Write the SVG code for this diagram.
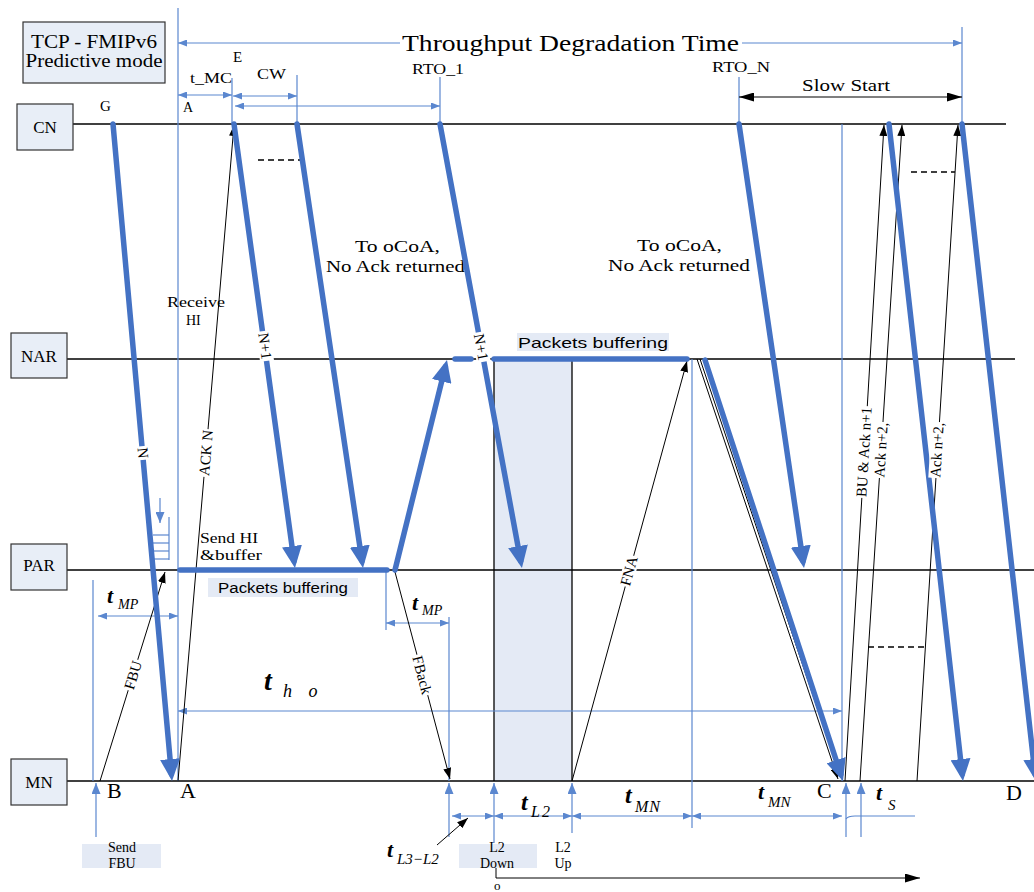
<svg xmlns="http://www.w3.org/2000/svg" width="1034" height="892" viewBox="0 0 1034 892">
<defs>
<style>
text{font-family:"Liberation Serif","Times New Roman",serif;fill:#000;font-size:14px}
.lane{fill:#E8EEF7;stroke:#333;stroke-width:1.2}
.lt{font-size:17px}
.rl{font-size:15px}
.ln{stroke:#000;stroke-width:1.3;fill:none}
.thick{stroke:#4472C4;stroke-width:5.5;stroke-linecap:round;fill:none}
.thickA{stroke:#4472C4;stroke-width:5.5;stroke-linecap:round;fill:none;marker-end:url(#mBig)}
.thin{stroke:#000;stroke-width:1;fill:none}
.thinA{stroke:#000;stroke-width:1;fill:none;marker-end:url(#mThin)}
.blu{stroke:#5B87CF;stroke-width:1.2;fill:none}
.dim{stroke:#5B87CF;stroke-width:1.2;fill:none;marker-start:url(#mDim);marker-end:url(#mDim)}
.up{stroke:#5B87CF;stroke-width:1.2;fill:none;marker-end:url(#mUp)}
.dash{stroke:#000;stroke-width:1.6;stroke-dasharray:6 4;fill:none}
.bg{fill:#E4EAF5}
.wb{fill:#fff}
.tt{font-style:italic;font-weight:bold}
.sub{font-style:italic}
.sans{font-family:"Liberation Sans",Arial,sans-serif}
</style>
<marker id="mBig" viewBox="0 0 22 20" refX="15" refY="10" markerWidth="22" markerHeight="20" markerUnits="userSpaceOnUse" orient="auto"><path d="M0,0 L22,10 L0,20 z" fill="#4472C4"/></marker>
<marker id="mThin" viewBox="0 0 11 8" refX="11" refY="4" markerWidth="11" markerHeight="8" markerUnits="userSpaceOnUse" orient="auto"><path d="M0,0 L11,4 L0,8 z" fill="#000"/></marker>
<marker id="mDim" viewBox="0 0 9 7" refX="9" refY="3.5" markerWidth="9" markerHeight="7" markerUnits="userSpaceOnUse" orient="auto-start-reverse"><path d="M0,0 L9,3.5 L0,7 z" fill="#5B87CF"/></marker>
<marker id="mUp" viewBox="0 0 11 9" refX="11" refY="4.5" markerWidth="11" markerHeight="9" markerUnits="userSpaceOnUse" orient="auto"><path d="M0,0 L11,4.5 L0,9 z" fill="#5B87CF"/></marker>
<marker id="mSS" viewBox="0 0 15 9" refX="15" refY="4.5" markerWidth="15" markerHeight="9" markerUnits="userSpaceOnUse" orient="auto-start-reverse"><path d="M0,0 L15,4.5 L0,9 z" fill="#000"/></marker>
</defs>
<rect width="1034" height="892" fill="#fff"/>

<!-- shaded L2 period -->
<rect x="494" y="359" width="78" height="422" class="bg"/>

<!-- lane lines -->
<g id="lanes">
<line x1="73" y1="124" x2="1006" y2="124" class="ln"/>
<line x1="67" y1="359" x2="1015" y2="359" class="ln"/>
<line x1="67" y1="570" x2="1034" y2="570" class="ln"/>
<line x1="67" y1="781" x2="1034" y2="781" class="ln"/>
<line x1="494" y1="359" x2="494" y2="781" class="ln"/>
<line x1="572" y1="359" x2="572" y2="781" class="ln"/>
</g>

<g id="title"><rect x="23" y="22" width="142" height="61" class="lane"/>
<text x="94" y="48" text-anchor="middle" style="font-size:19px" textLength="126" lengthAdjust="spacingAndGlyphs">TCP - FMIPv6</text>
<text x="94" y="67" text-anchor="middle" style="font-size:19px" textLength="137" lengthAdjust="spacingAndGlyphs">Predictive mode</text></g>
<g id="CN"><rect x="17" y="104" width="56" height="46" class="lane"/><text x="45" y="133" text-anchor="middle" class="lt">CN</text></g>
<g id="NAR"><rect x="11" y="333" width="56" height="45" class="lane"/><text x="39" y="362" text-anchor="middle" class="lt">NAR</text></g>
<g id="PAR"><rect x="11" y="544" width="56" height="46" class="lane"/><text x="39" y="571" text-anchor="middle" class="lt">PAR</text></g>
<g id="MN"><rect x="11" y="759" width="56" height="46" class="lane"/><text x="39" y="788" text-anchor="middle" class="lt">MN</text></g>

<!-- blue reference/dimension lines -->
<g id="dimensions">
<line x1="178" y1="8" x2="178" y2="781" class="blu" stroke="#8DA9DB"/>
<line x1="962" y1="27" x2="962" y2="124" class="blu"/>
<line x1="232" y1="78" x2="232" y2="124" class="blu"/>
<line x1="297" y1="75" x2="297" y2="124" class="blu"/>
<line x1="440" y1="77" x2="440" y2="124" class="blu"/>
<line x1="739" y1="77" x2="739" y2="124" class="blu"/>
<line x1="842" y1="124" x2="842" y2="781" class="blu"/>
<line x1="692" y1="359" x2="692" y2="828" class="blu"/>
<line x1="93" y1="580" x2="93" y2="781" class="blu"/>
<line x1="386" y1="572" x2="386" y2="630" class="blu"/>
<line x1="449" y1="617" x2="449" y2="781" class="blu"/>
<line x1="178" y1="43" x2="400" y2="43" class="blu" style="marker-start:url(#mDim)"/>
<line x1="742" y1="43" x2="962" y2="43" class="blu" style="marker-end:url(#mDim)"/>
<line x1="178" y1="95" x2="232" y2="95" class="dim"/>
<line x1="233" y1="96" x2="297" y2="96" class="dim"/>
<line x1="235" y1="106" x2="440" y2="106" class="dim"/>
<line x1="98" y1="616" x2="178" y2="616" class="dim"/>
<line x1="386" y1="623" x2="449" y2="623" class="dim"/>
<line x1="178" y1="711" x2="842" y2="711" class="dim"/>
<line x1="452" y1="816" x2="494" y2="816" class="dim"/>
<line x1="494" y1="816" x2="572" y2="816" class="dim"/>
<line x1="572" y1="816" x2="692" y2="816" class="dim"/>
<line x1="692" y1="816" x2="842" y2="816" class="dim"/>
<path d="M846,819 Q848,816 855,816 L915,816" class="blu"/>
<line x1="96" y1="837" x2="96" y2="783" class="up"/>
<line x1="449" y1="837" x2="449" y2="783" class="up"/>
<line x1="494" y1="843" x2="494" y2="783" class="up"/>
<line x1="572" y1="833" x2="572" y2="783" class="up"/>
<line x1="846" y1="837" x2="846" y2="783" class="up"/>
<line x1="861" y1="837" x2="861" y2="783" class="up"/>
<line x1="739" y1="97" x2="962" y2="97" stroke="#000" stroke-width="1.2" style="marker-start:url(#mSS);marker-end:url(#mSS)"/>
<polyline points="496,868 496,878 920,878" stroke="#000" stroke-width="1" fill="none" style="marker-end:url(#mSS)"/>
<line x1="437" y1="845" x2="468" y2="818" class="thinA" stroke-width="1.2"/>
</g>

<!-- buffer icon -->
<g id="buffer-icon">
<line x1="160" y1="498" x2="160" y2="523" class="up" stroke-width="2"/>
<line x1="169" y1="517" x2="169" y2="560" class="blu"/>
<line x1="153" y1="535" x2="169" y2="535" class="blu"/>
<line x1="153" y1="543" x2="169" y2="543" class="blu"/>
<line x1="153" y1="551" x2="169" y2="551" class="blu"/>
<line x1="153" y1="559" x2="169" y2="559" class="blu"/>
</g>

<!-- label backgrounds -->
<rect x="517" y="333" width="152" height="18" class="bg"/>
<rect x="208" y="578" width="150" height="19" class="bg"/>
<rect x="82" y="844" width="79" height="24" class="bg"/>
<rect x="459" y="844" width="78" height="24" class="bg"/>

<!-- free texts -->
<g id="texts">
<text x="402" y="51" style="font-size:24px" textLength="337" lengthAdjust="spacingAndGlyphs">Throughput Degradation Time</text>
<text x="233" y="62" style="font-size:15px">E</text>
<text x="190" y="83" textLength="42" lengthAdjust="spacingAndGlyphs">t_MC</text>
<text x="257" y="79" textLength="29" lengthAdjust="spacingAndGlyphs">CW</text>
<text x="183" y="112">A</text>
<text x="100" y="111" style="font-size:15px">G</text>
<text x="412" y="74" textLength="52" lengthAdjust="spacingAndGlyphs">RTO_1</text>
<text x="712" y="72" textLength="58" lengthAdjust="spacingAndGlyphs">RTO_N</text>
<text x="802" y="91" style="font-size:17px" textLength="88" lengthAdjust="spacingAndGlyphs">Slow Start</text>
<text x="167" y="307" textLength="58" lengthAdjust="spacingAndGlyphs">Receive</text>
<text x="186" y="325">HI</text>
<text x="355" y="252" style="font-size:17px" textLength="85" lengthAdjust="spacingAndGlyphs">To oCoA,</text>
<text x="326" y="272" style="font-size:17px" textLength="139" lengthAdjust="spacingAndGlyphs">No Ack returned</text>
<text x="637" y="251" style="font-size:17px" textLength="85" lengthAdjust="spacingAndGlyphs">To oCoA,</text>
<text x="608" y="271" style="font-size:17px" textLength="142" lengthAdjust="spacingAndGlyphs">No Ack returned</text>
<text x="593" y="348" text-anchor="middle" class="sans" style="font-size:15px" textLength="150" lengthAdjust="spacingAndGlyphs">Packets buffering</text>
<text x="283" y="593" text-anchor="middle" class="sans" style="font-size:14px" textLength="130" lengthAdjust="spacingAndGlyphs">Packets buffering</text>
<text x="200" y="543" style="font-size:15px" textLength="58" lengthAdjust="spacingAndGlyphs">Send HI</text>
<text x="200" y="560" style="font-size:15px" textLength="62" lengthAdjust="spacingAndGlyphs">&amp;buffer</text>
<text x="107" y="798" style="font-size:22px">B</text>
<text x="180" y="798" style="font-size:22px">A</text>
<text x="817" y="798" style="font-size:22px">C</text>
<text x="1006" y="800" style="font-size:22px">D</text>
<text x="122" y="852" text-anchor="middle">Send</text>
<text x="122" y="868" text-anchor="middle">FBU</text>
<text x="497" y="852" text-anchor="middle">L2</text>
<text x="497" y="868" text-anchor="middle">Down</text>
<text x="563" y="852" text-anchor="middle">L2</text>
<text x="563" y="868" text-anchor="middle">Up</text>
<text x="494" y="890" style="font-size:13px">o</text>
<text x="107" y="603" class="tt" style="font-size:22px">t</text><text x="118" y="609" class="sub">MP</text>
<text x="264" y="690" class="tt" style="font-size:28px">t</text><text x="283" y="697" class="sub" style="font-size:18px" letter-spacing="6">h o</text>
<text x="412" y="610" class="tt" style="font-size:22px">t</text><text x="422" y="615" class="sub">MP</text>
<text x="521" y="810" class="tt" style="font-size:24px">t</text><text x="531" y="817" class="sub" style="font-size:16px" letter-spacing="2">L2</text>
<text x="625" y="803" class="tt" style="font-size:24px">t</text><text x="635" y="812" class="sub" style="font-size:16px" letter-spacing="1">MN</text>
<text x="758" y="799" class="tt" style="font-size:22px">t</text><text x="768" y="807" class="sub" style="font-size:15px">MN</text>
<text x="876" y="800" class="tt" style="font-size:22px">t</text><text x="888" y="810" class="sub" style="font-size:15px">S</text>
<text x="387" y="857" class="tt" style="font-size:22px">t</text><text x="397" y="864" class="sub" style="font-size:15px">L3−L2</text>
</g>

<!-- connectors -->
<g id="connectors">
<line x1="100" y1="781" x2="165" y2="572" class="thinA"/>
<line x1="178" y1="781" x2="234" y2="125" class="thinA"/>
<line x1="395" y1="572" x2="450" y2="779" class="thinA"/>
<line x1="572" y1="781" x2="687" y2="361" class="thinA"/>
<line x1="697" y1="359" x2="838" y2="779" class="thinA"/>
<line x1="700" y1="359" x2="839" y2="773" class="thin"/>
<line x1="845" y1="781" x2="884" y2="125" class="thinA"/>
<line x1="860" y1="781" x2="902" y2="125" class="thinA"/>
<line x1="917" y1="781" x2="958" y2="125" class="thinA"/>
<line x1="258" y1="160" x2="303" y2="160" class="dash"/>
<line x1="911" y1="172" x2="955" y2="172" class="dash"/>
<line x1="868" y1="647" x2="925" y2="647" class="dash"/>

<line x1="180" y1="570" x2="387" y2="570" class="thick"/>
<line x1="455" y1="359" x2="471" y2="359" class="thick"/>
<line x1="494" y1="359" x2="687" y2="359" class="thick"/>
<line x1="113" y1="124" x2="171.4" y2="774" class="thickA"/>
<line x1="234" y1="124" x2="294" y2="561" class="thickA"/>
<line x1="297" y1="124" x2="362" y2="561" class="thickA"/>
<line x1="440" y1="124" x2="520.7" y2="561" class="thickA"/>
<line x1="739" y1="124" x2="803" y2="561" class="thickA"/>
<line x1="889" y1="124" x2="962.2" y2="774" class="thickA"/>
<line x1="962" y1="124" x2="1035" y2="774" class="thickA"/>
<line x1="705" y1="360" x2="840.8" y2="774.4" class="thickA"/>
<line x1="395" y1="570" x2="445.3" y2="366.8" class="thickA"/>

<!-- connector labels -->
<g transform="translate(143,453) rotate(84.87)"><rect x="-7" y="-7" width="14" height="14" class="wb"/><text x="0" y="5" text-anchor="middle" class="rl">N</text></g>
<g transform="translate(265,346) rotate(82.2)"><rect x="-15" y="-7" width="30" height="14" class="wb"/><text x="0" y="5" text-anchor="middle" class="rl">N+1</text></g>
<g transform="translate(481,347) rotate(79.5)"><rect x="-15" y="-7" width="30" height="14" class="wb"/><text x="0" y="5" text-anchor="middle" class="rl">N+1</text></g>
<g transform="translate(206,453) rotate(-85.13)"><rect x="-24" y="-7" width="48" height="14" class="wb"/><text x="0" y="5" text-anchor="middle" class="rl" textLength="46" lengthAdjust="spacingAndGlyphs">ACK N</text></g>
<g transform="translate(133,675) rotate(-72.72)"><rect x="-16" y="-7" width="32" height="14" class="wb"/><text x="0" y="5" text-anchor="middle" class="rl">FBU</text></g>
<g transform="translate(422,675) rotate(75.12)"><rect x="-21" y="-7" width="42" height="14" class="wb"/><text x="0" y="5" text-anchor="middle" class="rl">FBack</text></g>
<g transform="translate(629,571) rotate(-74.69)"><rect x="-16" y="-7" width="32" height="14" class="wb"/><text x="0" y="5" text-anchor="middle" class="rl">FNA</text></g>
<g transform="translate(864,452) rotate(-86.6)"><rect x="-46" y="-7" width="92" height="14" class="wb"/><text x="0" y="5" text-anchor="middle" class="rl" textLength="90" lengthAdjust="spacingAndGlyphs">BU &amp; Ack n+1</text></g>
<g transform="translate(881,450) rotate(-86.3)"><rect x="-28" y="-7" width="56" height="14" class="wb"/><text x="0" y="5" text-anchor="middle" class="rl" textLength="55" lengthAdjust="spacingAndGlyphs">Ack n+2,</text></g>
<g transform="translate(937,450) rotate(-86.4)"><rect x="-28" y="-7" width="56" height="14" class="wb"/><text x="0" y="5" text-anchor="middle" class="rl" textLength="55" lengthAdjust="spacingAndGlyphs">Ack n+2,</text></g>
</g>
</svg>
